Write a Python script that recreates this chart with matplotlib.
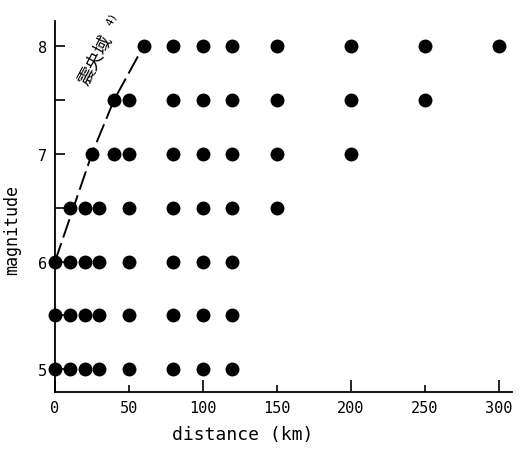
import matplotlib
matplotlib.use("Agg")
import matplotlib.pyplot as plt

# data: (magnitude, distances)
mag_8 = [60, 80, 100, 120, 150, 200, 250, 300]
mag_75 = [40, 50, 80, 100, 120, 150, 200, 250]
mag_7 = [25, 40, 50, 80, 100, 120, 150, 200]
mag_65 = [10, 20, 30, 50, 80, 100, 120, 150]
mag_6 = [0, 10, 20, 30, 50, 80, 100, 120]
mag_55 = [0, 10, 20, 30, 50, 80, 100, 120]
mag_5 = [0, 10, 20, 30, 50, 80, 100, 120]
magnitudes = [8.0, 7.5, 7.0, 6.5, 6.0, 5.5, 5.0]
rows = [mag_8, mag_75, mag_7, mag_65, mag_6, mag_55, mag_5]

# epicentral-region boundary
bound_x = [0, 25, 40, 60]
bound_y = [6.0, 7.0, 7.5, 8.0]

x_major = [0, 100, 200, 300]
x_minor = [50, 150, 250]
y_ticks = [5, 6, 7, 8]
y_minor = [5.5, 6.5, 7.5]

plt.rcParams['font.family'] = ['DejaVu Sans Mono', 'Noto Sans CJK JP']

W, H = 522, 456
fig = plt.figure(figsize=(W/100, H/100), dpi=100)
ax = fig.add_axes([55/W, 63/H, 457/W, 371/H])

for m, xs in zip(magnitudes, rows):
    ax.scatter(xs, [m]*len(xs), s=100, color='black', zorder=3, clip_on=False, linewidths=0)

ax.plot(bound_x, bound_y, color='black', lw=1.4, dashes=(10, 3), zorder=2, clip_on=False)
fig.text(96/W, 1 - 60/H, '震央域', fontsize=13, rotation=62,
         ha='center', va='center', family=['Noto Sans CJK JP'])
fig.text(112/W, 1 - 19/H, '4)', fontsize=8, rotation=62,
         ha='center', va='center')

ax.set_xlim(0, 309)
ax.set_ylim(4.79, 8.23)
for s in ['top', 'right']:
    ax.spines[s].set_visible(False)
ax.spines['left'].set_linewidth(1.3)
ax.spines['bottom'].set_linewidth(1.3)

ax.set_xticks(x_major + x_minor)
ax.set_xticklabels([str(v) for v in x_major + x_minor], fontsize=11)
ax.set_yticks(y_ticks)
ax.set_yticklabels([str(v) for v in y_ticks], fontsize=11)
ax.set_yticks(y_minor, minor=True)
ax.tick_params(axis='both', which='major', direction='in', length=7, width=1.2, pad=6)
ax.tick_params(axis='y', which='minor', direction='in', length=7, width=1.2)
for t, v in zip(ax.xaxis.get_major_ticks(), x_major + x_minor):
    if v in x_minor:
        t.tick1line.set_markersize(5)
    else:
        t.tick1line.set_markersize(9)

ax.set_xlabel('distance (km)', fontsize=13)
ax.xaxis.set_label_coords(0.41, -0.09)
ax.set_ylabel('magnitude', fontsize=12)
ax.yaxis.set_label_coords(-0.075, 0.44)

fig.savefig('out.png', dpi=100)
